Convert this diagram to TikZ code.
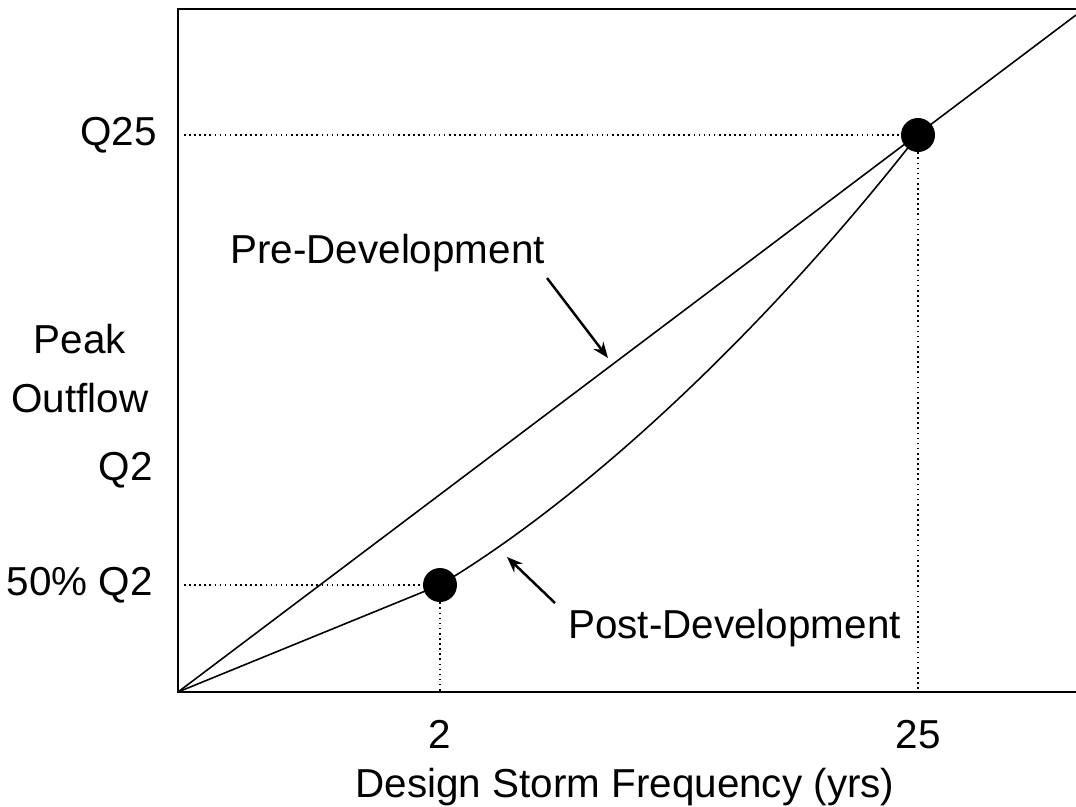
\documentclass[tikz,border=0pt]{standalone}
\usepackage{fontspec}
\setmainfont{Liberation Sans}
\usetikzlibrary{arrows.meta}

\begin{document}
\begin{tikzpicture}[x=0.02cm,y=-0.02cm,
        axis/.style={line width=1.1pt},
        curve/.style={line width=0.9pt},
        guide/.style={dotted,line width=0.9pt},
        dot/.style={circle,fill=black,inner sep=0pt,minimum size=0.68cm},
        lab/.style={font=\fontsize{23}{28}\selectfont,inner sep=0pt},
        pointer/.style={line width=1.4pt,-{Stealth[length=9pt,width=7pt]}}]
        \useasboundingbox (0,0) rectangle (1076,806);
        % frame
        \coordinate (o) at (178,692);
        \coordinate (ytop) at (178,9);
        \coordinate (xend) at (1076,692);
        \coordinate (topend) at (1076,9);
        \coordinate (preend) at (1076,15);
        \draw[axis] (topend) -- (ytop) -- (o) -- (xend);
        % design points
        \node[dot] (p2) at (440,585) {};
        \node[dot] (p25) at (918,135) {};
        \coordinate (q25y) at (184,135);
        \coordinate (q2y) at (184,585);
        \draw[guide] (q25y) -- (p25.west);
        \draw[guide] (q2y) -- (p2.west);
        \draw[guide] (p25.south) -- (p25 |- o);
        \draw[guide] (p2.south) -- (p2 |- o);
        % curves
        \draw[curve] (o) -- (preend);
        \draw[curve] (o) -- (p2.center) .. controls (590,495) and (768,327) .. (p25.center);
        % labels
        \node[lab,anchor=base east] (q25) at (157,145) {Q25};
        \node[lab,anchor=base] (peak) at (80,353) {Peak};
        \node[lab,anchor=base] (outflow) at (80,412) {Outflow};
        \node[lab,anchor=base east] (q2) at (153,480) {Q2};
        \node[lab,anchor=base east] (halfq2) at (153,595) {50\% Q2};
        \node[lab,anchor=base] (t2) at (440,748) {2};
        \node[lab,anchor=base] (t25) at (918,748) {25};
        \node[lab,anchor=base] (xlab) at (625,797) {Design Storm Frequency (yrs)};
        \node[lab,anchor=base west] (pre) at (230,263) {Pre-Development};
        \node[lab,anchor=base west] (post) at (568,638) {Post-Development};
        % pointers
        \coordinate (pretail) at (547,278);
        \coordinate (pretip) at (608,358);
        \coordinate (posttail) at (555,603);
        \coordinate (posttip) at (507,557);
        \draw[pointer] (pretail) -- (pretip);
        \draw[pointer] (posttail) -- (posttip);
\end{tikzpicture}
\end{document}
